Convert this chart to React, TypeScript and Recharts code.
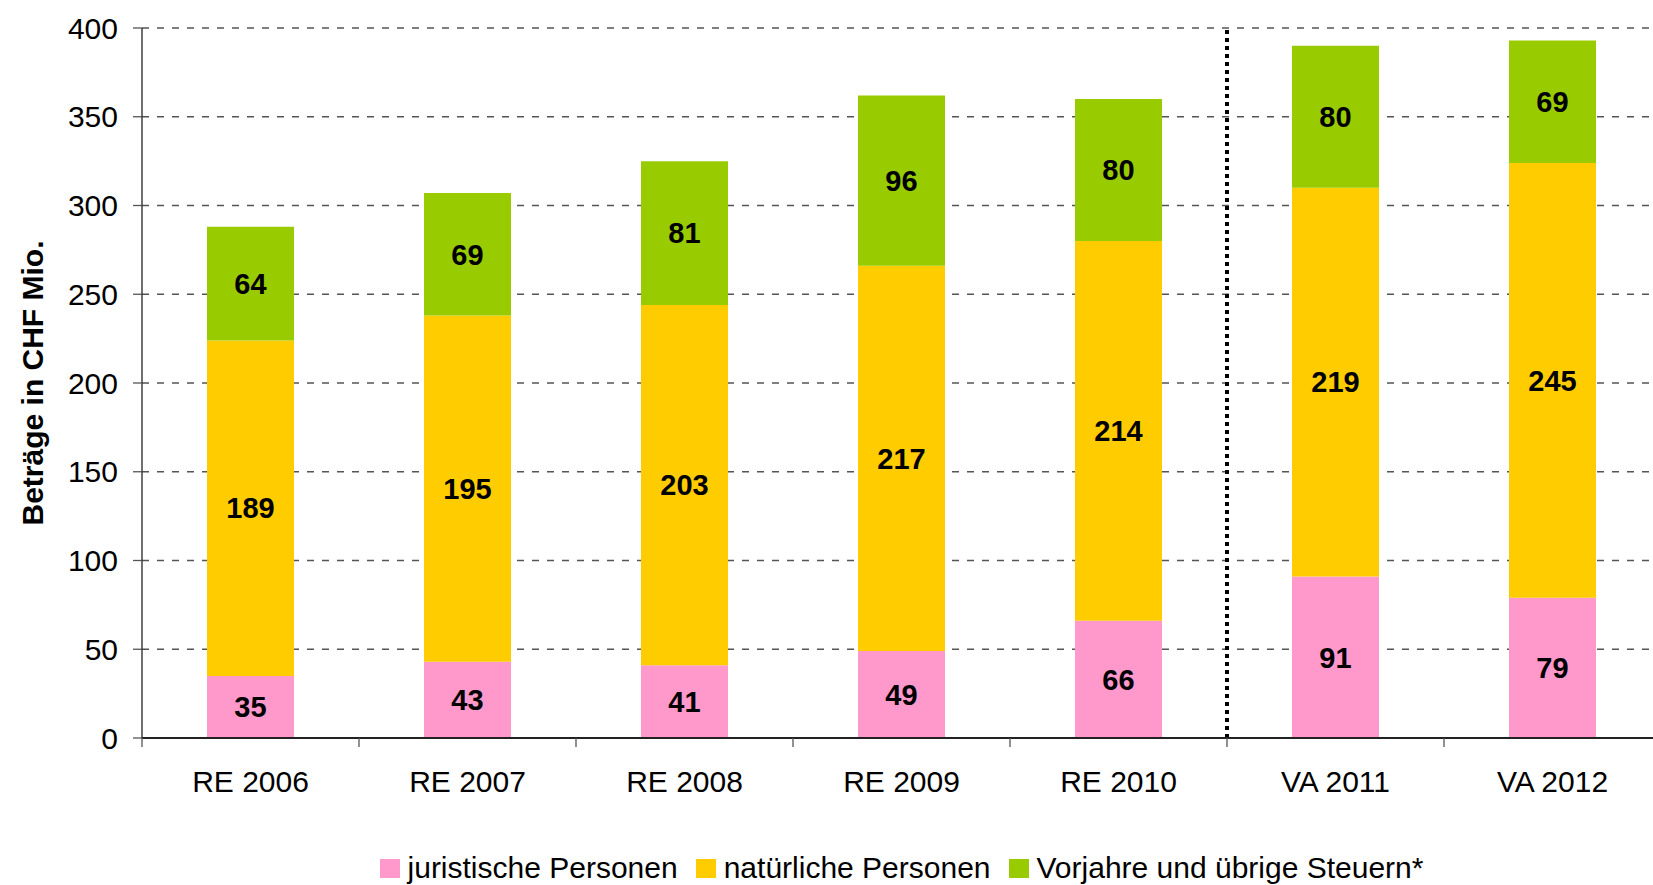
import { BarChart, Bar, XAxis, YAxis, CartesianGrid, Legend, LabelList, ReferenceLine } from "recharts";

const categories = ["RE 2006", "RE 2007", "RE 2008", "RE 2009", "RE 2010", "VA 2011", "VA 2012"];
const juristische = [35, 43, 41, 49, 66, 91, 79];
const natuerliche = [189, 195, 203, 217, 214, 219, 245];
const vorjahre = [64, 69, 81, 96, 80, 80, 69];
const yTicks = [0, 50, 100, 150, 200, 250, 300, 350, 400];
const seriesNames = ["juristische Personen", "natürliche Personen", "Vorjahre und übrige Steuern*"];

const data = categories.map((cat, i) => ({
  cat,
  jur: juristische[i],
  nat: natuerliche[i],
  vor: vorjahre[i],
}));

const FONT = "'Liberation Sans', Arial, sans-serif";

function XTick(props: any) {
  const { x, y, payload, index, visibleTicksCount } = props;
  const off = payload.offset ?? 108.5;
  return (
    <g>
      <line x1={x - off} x2={x - off} y1={y} y2={y + 9} stroke="#555" strokeWidth={1.3} />
      {index === visibleTicksCount - 1 && (
        <line x1={x + off} x2={x + off} y1={y} y2={y + 9} stroke="#555" strokeWidth={1.3} />
      )}
      <text x={x} y={y + 54} textAnchor="middle" fontSize={30} fontFamily={FONT} fill="#000">
        {payload.value}
      </text>
    </g>
  );
}

function LegendBox(props: any) {
  const items = [...(props.payload || [])].sort(
    (a: any, b: any) => seriesNames.indexOf(a.value) - seriesNames.indexOf(b.value)
  );
  return (
    <div
      style={{
        display: "flex",
        justifyContent: "center",
        alignItems: "center",
        height: 34,
        lineHeight: "34px",
        fontSize: 30,
        fontFamily: FONT,
        color: "#000",
        whiteSpace: "nowrap",
      }}
    >
      {items.map((p: any, i: number) => (
        <span key={i} style={{ display: "flex", alignItems: "center", marginRight: i < 2 ? 18 : 0 }}>
          <span style={{ width: 20, height: 19, background: p.color, marginRight: 8, display: "inline-block" }} />
          {p.value}
        </span>
      ))}
    </div>
  );
}

function YLabel(props: any) {
  const { viewBox } = props;
  const cx = 32;
  const cy = viewBox.y + viewBox.height / 2;
  return (
    <text
      x={cx}
      y={cy}
      transform={`rotate(-90, ${cx}, ${cy})`}
      textAnchor="middle"
      dominantBaseline="central"
      fontSize={30}
      fontWeight="bold"
      fontFamily={FONT}
      fill="#000"
    >
      Beträge in CHF Mio.
    </text>
  );
}

const labelStyle = { fontSize: 29, fontWeight: "bold" as const, fontFamily: FONT, fill: "#000" };

export default function App() {
  return (
    <div
      style={{
        position: "fixed",
        left: 0,
        top: 0,
        width: 1653,
        height: 885,
        overflow: "hidden",
        background: "#fff",
      }}
    >
      <BarChart
        width={1665}
        height={885}
        data={data}
        margin={{ top: 28, right: 4, left: 0, bottom: 0 }}
      >
        <CartesianGrid vertical={false} stroke="#555" strokeDasharray="7 8" strokeWidth={1.3} />
        <XAxis
          dataKey="cat"
          height={113}
          interval={0}
          tickLine={false}
          tickSize={0}
          tickMargin={0}
          axisLine={{ stroke: "#222", strokeWidth: 2 }}
          tick={<XTick />}
        />
        <YAxis
          width={142}
          domain={[0, 400]}
          ticks={yTicks}
          interval={0}
          tickSize={9}
          tickMargin={15}
          axisLine={{ stroke: "#222", strokeWidth: 1.3 }}
          tickLine={{ stroke: "#555", strokeWidth: 1.3 }}
          tick={{ fontSize: 30, fontFamily: FONT, fill: "#000" }}
          label={<YLabel />}
        />
        <Legend
          verticalAlign="bottom"
          wrapperStyle={{ left: 142, width: 1519 }}
          content={<LegendBox />}
        />
        <ReferenceLine
          x="VA 2011"
          position="start"
          stroke="#000"
          strokeWidth={4}
          strokeDasharray="4 4"
        />
        <Bar dataKey="jur" name={seriesNames[0]} stackId="a" fill="#FF99CC" barSize={87} isAnimationActive={false}>
          <LabelList dataKey="jur" position="center" style={labelStyle} />
        </Bar>
        <Bar dataKey="nat" name={seriesNames[1]} stackId="a" fill="#FFCC00" barSize={87} isAnimationActive={false}>
          <LabelList dataKey="nat" position="center" style={labelStyle} />
        </Bar>
        <Bar dataKey="vor" name={seriesNames[2]} stackId="a" fill="#99CC00" barSize={87} isAnimationActive={false}>
          <LabelList dataKey="vor" position="center" style={labelStyle} />
        </Bar>
      </BarChart>
    </div>
  );
}
